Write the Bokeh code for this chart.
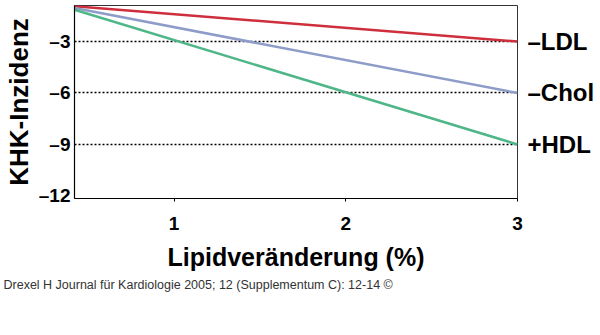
from bokeh.plotting import figure
from bokeh.models import FixedTicker, LinearAxis, Range1d, Title
from bokeh.embed import file_html
from bokeh.resources import INLINE

# Data
series_names = ["–LDL", "–Chol", "+HDL"]
series_colors = ["#cf2f3d", "#8d9cc8", "#4fb688"]
x_start = 0.42
x_end = 3.0
y_start = [-0.95, -1.05, -1.15]
y_end = [-3.0, -6.0, -9.0]

x_ticks = [1, 2, 3]
y_ticks = [-12, -9, -6, -3]
y_tick_labels = ["–12", "–9", "–6", "–3"]
grid_values = [-9, -6, -3]

FONT = "Liberation Sans"

p = figure(frame_width=443, frame_height=193,
           x_range=Range1d(0.42, 3.0), y_range=Range1d(-12.15, -0.9),
           output_backend="svg", toolbar_location=None, title=None,
           min_border_left=73, min_border_right=84,
           min_border_top=5, min_border_bottom=137)
p.background_fill_color = "white"
p.border_fill_color = "white"
p.outline_line_color = "#333333"
p.outline_line_width = 1

p.xgrid.visible = False
p.ygrid.ticker = FixedTicker(ticks=grid_values)
p.ygrid.grid_line_color = "black"
p.ygrid.grid_line_dash = "2 2"
p.ygrid.grid_line_width = 1.3

p.xaxis.ticker = FixedTicker(ticks=x_ticks)
p.yaxis.ticker = FixedTicker(ticks=y_ticks)
p.yaxis.major_label_overrides = {t: l for t, l in zip(y_ticks, y_tick_labels)}

for ax in (p.xaxis[0], p.yaxis[0]):
    ax.axis_line_color = "black"
    ax.axis_line_width = 1.2
    ax.minor_tick_line_color = None
    ax.major_tick_in = 0
    ax.major_label_text_font = FONT
    ax.major_label_text_font_style = "bold"
    ax.major_label_text_font_size = "19px"
    ax.major_label_text_color = "black"
    ax.axis_label_text_font = FONT
    ax.axis_label_text_font_style = "bold"
    ax.axis_label_text_font_size = "25px"
    ax.axis_label_text_color = "black"

p.xaxis.major_tick_out = 3
p.xaxis.major_tick_line_color = "black"
p.xaxis.major_label_standoff = 15
p.xaxis.axis_label = "Lipidveränderung (%)"
p.xaxis.axis_label_standoff = 10

p.yaxis.major_tick_out = 0
p.yaxis.major_label_standoff = 4
p.yaxis.axis_label = "KHK-Inzidenz"
p.yaxis.axis_label_standoff = 2
p.yaxis.axis_label_text_font_size = "26px"

for col, ys, ye in zip(series_colors, y_start, y_end):
    p.line([x_start, x_end], [ys, ye], line_color=col, line_width=2.5)

# Series names as a right-hand axis at the line end values
right = LinearAxis(ticker=FixedTicker(ticks=y_end),
                   major_label_overrides={v: n for v, n in zip(y_end, series_names)})
right.axis_line_color = None
right.major_tick_line_color = None
right.minor_tick_line_color = None
right.major_tick_out = 0
right.major_tick_in = 0
right.major_label_standoff = 10
right.major_label_text_font = FONT
right.major_label_text_font_style = "bold"
right.major_label_text_font_size = "24px"
right.major_label_text_color = "black"
p.add_layout(right, "right")

footer = Title(text="Drexel H Journal für Kardiologie 2005; 12 (Supplementum C): 12-14 ©",
               align="left", text_font=FONT, text_font_style="normal",
               text_font_size="12.5px", text_color="#333333", offset=-71, standoff=5)
p.add_layout(footer, "below")

open("out.html", "w").write(file_html(p, INLINE))
